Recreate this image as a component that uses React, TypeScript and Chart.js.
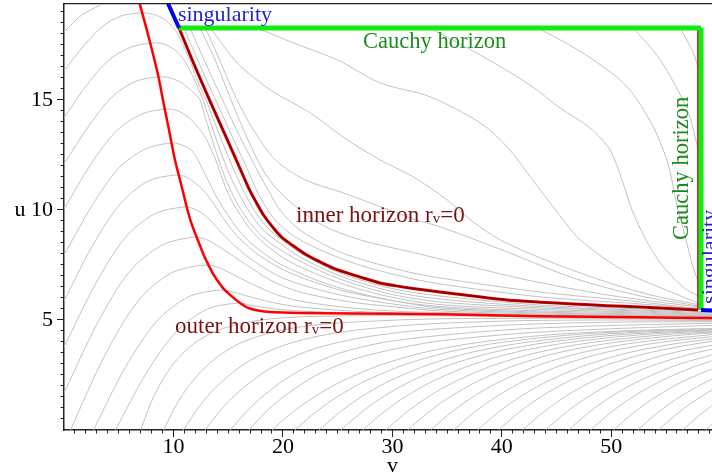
import { useEffect, useRef } from "react";
import { Chart, registerables } from "chart.js";

Chart.register(...registerables);

type P = [number, number];

// axis ranges and tick values
const vMin = 0;
const vMax = 59.2;
const uMin = 0;
const uMax = 19.36;
const vMajorTicks = [10, 20, 30, 40, 50];
const uMajorTicks = [5, 10, 15];
const vMinorTicks = Array.from({ length: 59 }, (_, i) => i + 1);
const uMinorTicks = Array.from({ length: 38 }, (_, i) => (i + 1) * 0.5);

// special curves (v, u)
const outerHorizon: P[] = [
  [6.85, 19.55], [6.94, 19.33], [7.49, 18.32], [8.04, 17.27], [8.59, 16.14], [9.04, 15.0],
  [9.59, 13.64], [10.14, 12.27], [10.83, 10.91], [11.28, 10.0], [11.69, 9.32], [12.33, 8.5],
  [12.84, 7.86], [13.57, 7.14], [13.98, 6.82], [14.53, 6.45], [15.17, 6.14], [16.08, 5.77],
  [16.81, 5.55], [17.72, 5.43], [18.82, 5.36], [21.56, 5.32], [26.13, 5.3], [34.35, 5.26],
  [43.49, 5.17], [52.62, 5.12], [59.3, 5.09],
];
const innerHorizon: P[] = [
  [10.51, 18.27], [11.83, 16.68], [13.29, 15.0], [14.8, 13.32], [16.26, 11.68], [16.95, 10.91],
  [17.59, 10.32], [18.23, 9.77], [19.05, 9.23], [19.87, 8.77], [20.83, 8.41], [22.02, 8.0],
  [23.39, 7.64], [24.58, 7.36], [25.85, 7.14], [27.32, 6.91], [28.87, 6.68], [30.33, 6.55],
  [31.88, 6.43], [34.35, 6.27], [37.36, 6.09], [40.47, 5.91], [43.49, 5.81], [46.5, 5.73],
  [49.61, 5.65], [52.62, 5.59], [55.36, 5.52], [57.92, 5.45],
];
const innerHorizonEdge: P[] = [[57.92, 18.2], [57.92, 5.45]];
const singularityLeft: P[] = [[9.27, 19.64], [10.51, 18.27]];
const singularityRight: P[] = [[58.2, 5.45], [59.4, 5.43]];
const cauchyTop: P[] = [[10.51, 18.27], [58.2, 18.27]];
const cauchyRight: P[] = [[58.2, 18.27], [58.2, 5.45]];

// grey r = const contours between the left edge and the inner horizon
const humpContours: P[][] = [
  [[0, 18.09], [1.6, 18.85], [3.33, 19.32], [5, 19.8]],
  [[0, 16.32], [1.87, 17.5], [3.56, 18.36], [5.25, 18.82], [6.94, 18.95], [8.04, 18.91], [8.95, 18.73], [9.68, 18.45], [10.32, 18.05], [10.87, 17.5], [11.33, 17.0], [11.79, 16.41], [12.33, 15.68], [12.97, 15.0], [13.61, 14.18], [14.25, 13.36], [14.75, 12.73], [15.21, 12.18], [15.76, 11.55], [16.35, 10.91], [16.99, 10.32], [17.72, 9.73], [18.64, 9.18], [19.82, 8.68], [21.56, 8.05], [25.21, 7.14], [29.78, 6.45], [34.35, 6.09], [43.49, 5.68], [52.62, 5.5], [59.2, 5.36]],
  [[0, 14.18], [2.15, 15.73], [4.16, 16.84], [6.16, 17.41], [8.13, 17.59], [9.04, 17.55], [9.87, 17.36], [10.6, 17.05], [11.24, 16.59], [11.79, 16.05], [12.24, 15.55], [12.7, 15.0], [13.25, 14.18], [13.8, 13.36], [14.25, 12.73], [14.66, 12.18], [15.17, 11.55], [15.8, 10.91], [16.44, 10.32], [17.18, 9.73], [18.09, 9.14], [19.46, 8.59], [21.56, 7.86], [25.21, 7.0], [29.78, 6.32], [34.35, 5.95], [43.49, 5.61], [52.62, 5.45], [59.2, 5.32]],
  [[0, 12.09], [2.33, 13.86], [4.47, 15.18], [6.62, 15.86], [8.77, 16.05], [9.68, 16.0], [10.6, 15.82], [11.33, 15.55], [11.97, 15.27], [12.42, 15.0], [12.93, 14.18], [13.43, 13.36], [13.84, 12.73], [14.21, 12.18], [14.66, 11.55], [15.21, 10.91], [15.8, 10.32], [16.54, 9.73], [17.45, 9.14], [18.82, 8.5], [21.56, 7.68], [25.21, 6.86], [29.78, 6.18], [34.35, 5.82], [43.49, 5.55], [52.62, 5.41], [59.2, 5.27]],
  [[0, 10.05], [2.47, 12.09], [4.79, 13.59], [7.12, 14.36], [9.41, 14.59], [10.41, 14.5], [11.33, 14.23], [12.15, 13.82], [12.88, 13.32], [13.43, 12.77], [13.89, 12.23], [14.34, 11.59], [14.85, 10.91], [15.44, 10.32], [16.17, 9.73], [16.99, 9.14], [18.36, 8.45], [20.65, 7.64], [25.21, 6.68], [29.78, 6.05], [34.35, 5.7], [43.49, 5.48], [52.62, 5.36], [59.2, 5.24]],
  [[0, 7.95], [2.6, 10.23], [5.02, 11.91], [7.44, 12.77], [9.87, 13.05], [10.78, 12.95], [11.6, 12.73], [12.24, 12.27], [12.74, 11.77], [13.2, 11.32], [13.66, 10.86], [14.25, 10.32], [15.03, 9.73], [15.94, 9.09], [17.27, 8.41], [19.73, 7.55], [24.3, 6.59], [29.78, 5.91], [34.35, 5.61], [43.49, 5.41], [52.62, 5.32], [59.2, 5.2]],
  [[0, 5.86], [2.69, 8.45], [5.21, 10.32], [7.72, 11.32], [10.23, 11.59], [11.15, 11.5], [11.97, 11.23], [12.7, 10.91], [13.43, 10.45], [14.16, 9.91], [14.98, 9.32], [16.08, 8.68], [17.91, 7.91], [20.65, 7.14], [25.21, 6.36], [30.7, 5.82], [34.35, 5.55], [43.49, 5.36], [52.62, 5.27], [59.2, 5.18]],
  [[0, 3.77], [2.88, 6.64], [5.57, 8.73], [8.26, 9.82], [10.96, 10.14], [11.88, 10.05], [12.7, 9.82], [13.52, 9.45], [14.43, 8.95], [15.62, 8.36], [17.45, 7.64], [20.19, 6.86], [25.21, 6.14], [30.7, 5.68], [34.35, 5.48], [43.49, 5.32], [52.62, 5.23], [59.2, 5.15]],
  [[0, 1.68], [3.06, 4.86], [6.03, 7.23], [9.0, 8.41], [11.88, 8.77], [12.88, 8.68], [13.8, 8.45], [14.89, 8.09], [16.54, 7.55], [18.82, 6.82], [21.56, 6.27], [26.13, 5.82], [30.7, 5.57], [34.35, 5.41], [43.49, 5.27], [52.62, 5.2], [59.2, 5.13]],
  [[0.59, 0], [3.7, 3.36], [6.76, 5.86], [9.82, 7.14], [12.88, 7.5], [13.98, 7.41], [15.17, 7.14], [16.99, 6.68], [19.28, 6.18], [21.56, 5.86], [26.13, 5.55], [30.7, 5.39], [34.35, 5.34], [43.49, 5.23], [52.62, 5.17], [59.2, 5.11]],
  [[2.69, 0], [5.62, 2.86], [8.49, 4.95], [11.37, 6.05], [14.25, 6.36], [15.44, 6.27], [16.99, 6.05], [19.28, 5.77], [21.56, 5.59], [26.13, 5.41], [30.7, 5.32], [34.35, 5.3], [43.49, 5.2], [52.62, 5.15], [59.2, 5.1]],
  [[4.7, 0], [7.53, 2.59], [10.32, 4.5], [13.11, 5.5], [15.9, 5.77], [16.99, 5.68], [19.28, 5.5], [21.56, 5.41], [26.13, 5.32], [30.7, 5.28], [34.35, 5.26], [43.49, 5.18], [52.62, 5.14], [59.2, 5.1]],
];

// grey contours below the outer horizon
const lowerContours: P[][] = [
  [[7, 0], [8, 1.3], [9, 2.27], [10, 3.01], [11.5, 3.78], [13, 4.28], [15, 4.69], [18, 5.0], [22, 5.15], [32, 5.2], [45, 5.13], [59.5, 5.05]],
  [[9.1, 0], [10.1, 1.0], [11.1, 1.8], [12.6, 2.7], [14.1, 3.35], [16.1, 3.95], [19.1, 4.45], [23.1, 4.78], [29.1, 4.97], [34.4, 5.05], [45, 5.08], [59.5, 5.02]],
  [[10.9, 0], [12.4, 1.1], [13.9, 1.95], [15.9, 2.8], [17.9, 3.4], [20.9, 3.98], [24.9, 4.42], [29.9, 4.7], [34.4, 4.85], [42, 4.97], [50, 5.0], [59.5, 4.97]],
  [[12.9, 0], [14.4, 0.95], [15.9, 1.7], [17.9, 2.5], [19.9, 3.08], [22.9, 3.7], [26.9, 4.17], [30.9, 4.45], [34.4, 4.6], [42, 4.8], [50, 4.9], [59.5, 4.92]],
  [[15.2, 0], [16.7, 0.85], [18.2, 1.55], [20.2, 2.3], [22.2, 2.88], [25.2, 3.5], [29.2, 3.98], [34.4, 4.3], [42, 4.6], [50, 4.75], [59.5, 4.85]],
  [[16.9, 0], [18.4, 0.8], [19.9, 1.45], [21.9, 2.15], [23.9, 2.7], [26.9, 3.28], [30.9, 3.75], [34.4, 4.05], [42, 4.4], [50, 4.6], [59.5, 4.76]],
  [[19, 0], [20.5, 0.65], [22, 1.22], [24, 1.85], [26, 2.36], [29, 2.97], [33, 3.54], [38, 3.99], [45, 4.35], [53, 4.54], [61, 4.63]],
  [[21.1, 0], [22.6, 0.65], [24.1, 1.22], [26.1, 1.85], [28.1, 2.36], [31.1, 2.97], [35.1, 3.54], [40.1, 3.99], [47.1, 4.35], [55.1, 4.54], [63.1, 4.63]],
  [[23.3, 0], [24.8, 0.65], [26.3, 1.22], [28.3, 1.85], [30.3, 2.36], [33.3, 2.97], [37.3, 3.54], [42.3, 3.99], [49.3, 4.35], [57.3, 4.54], [65.3, 4.63]],
  [[25.3, 0], [26.8, 0.65], [28.3, 1.22], [30.3, 1.85], [32.3, 2.36], [35.3, 2.97], [39.3, 3.54], [44.3, 3.99], [51.3, 4.35], [59.3, 4.54]],
  [[27.3, 0], [28.8, 0.65], [30.3, 1.22], [32.3, 1.85], [34.3, 2.36], [37.3, 2.97], [41.3, 3.54], [46.3, 3.99], [53.3, 4.35], [61.3, 4.54]],
  [[29.4, 0], [30.9, 0.65], [32.4, 1.22], [34.4, 1.85], [36.4, 2.36], [39.4, 2.97], [43.4, 3.54], [48.4, 3.99], [55.4, 4.35], [63.4, 4.54]],
  [[31.4, 0], [32.9, 0.65], [34.4, 1.22], [36.4, 1.85], [38.4, 2.36], [41.4, 2.97], [45.4, 3.54], [50.4, 3.99], [57.4, 4.35], [65.4, 4.54]],
  [[33.5, 0], [35, 0.65], [36.5, 1.22], [38.5, 1.85], [40.5, 2.36], [43.5, 2.97], [47.5, 3.54], [52.5, 3.99], [59.5, 4.35]],
  [[35.6, 0], [37.1, 0.65], [38.6, 1.22], [40.6, 1.85], [42.6, 2.36], [45.6, 2.97], [49.6, 3.54], [54.6, 3.99], [61.6, 4.35]],
  [[37.8, 0], [39.3, 0.65], [40.8, 1.22], [42.8, 1.85], [44.8, 2.36], [47.8, 2.97], [51.8, 3.54], [56.8, 3.99], [63.8, 4.35]],
  [[39.7, 0], [41.2, 0.65], [42.7, 1.22], [44.7, 1.85], [46.7, 2.36], [49.7, 2.97], [53.7, 3.54], [58.7, 3.99], [65.7, 4.35]],
  [[41.9, 0], [43.4, 0.65], [44.9, 1.22], [46.9, 1.85], [48.9, 2.36], [51.9, 2.97], [55.9, 3.54], [60.9, 3.99]],
  [[44, 0], [45.5, 0.65], [47, 1.22], [49, 1.85], [51, 2.36], [54, 2.97], [58, 3.54], [63, 3.99]],
  [[46.1, 0], [47.6, 0.65], [49.1, 1.22], [51.1, 1.85], [53.1, 2.36], [56.1, 2.97], [60.1, 3.54]],
  [[48.1, 0], [49.6, 0.65], [51.1, 1.22], [53.1, 1.85], [55.1, 2.36], [58.1, 2.97], [62.1, 3.54]],
  [[50.2, 0], [51.7, 0.65], [53.2, 1.22], [55.2, 1.85], [57.2, 2.36], [60.2, 2.97]],
  [[52.4, 0], [53.9, 0.65], [55.4, 1.22], [57.4, 1.85], [59.4, 2.36]],
  [[54.3, 0], [55.8, 0.65], [57.3, 1.22], [59.3, 1.85]],
  [[56.5, 0], [58, 0.65], [59.5, 1.22]],
  [[58.6, 0], [60.1, 0.65]],
];

// grey contours above the inner horizon
const upperContours: P[][] = [
  [[10.96, 18.27], [12.33, 16.68], [13.84, 15.0], [15.39, 13.32], [16.9, 11.68], [17.81, 10.68], [19.28, 9.55], [21.56, 8.64], [26.13, 7.64], [30.7, 7.0], [34.35, 6.64], [43.49, 6.05], [52.62, 5.73], [57.92, 5.49]],
  [[11.51, 18.27], [12.93, 16.68], [14.48, 15.0], [16.08, 13.32], [17.63, 11.82], [18.64, 10.91], [19.73, 10.0], [21.56, 9.09], [25.21, 8.09], [30.7, 7.27], [34.35, 6.91], [43.49, 6.27], [52.62, 5.82], [57.92, 5.52]],
  [[12.42, 18.27], [13.8, 16.82], [15.26, 15.0], [16.81, 13.18], [18.18, 11.82], [19.37, 11.0], [21.1, 10.18], [23.57, 9.32], [27.04, 8.64], [31.7, 8.09], [34.35, 7.77], [41.93, 6.86], [49.61, 6.14], [57.92, 5.59]],
  [[12.92, 18.27], [14.02, 17.05], [15.39, 15.45], [17.03, 13.86], [19.32, 12.27], [22.05, 11.36], [25.25, 10.82], [28.26, 10.27], [31.92, 9.59], [34.38, 9.23], [40.5, 8.09], [46.53, 6.91], [52.65, 6.09], [57.95, 5.64]],
  [[13.38, 18.27], [15.84, 16.68], [18.86, 15.45], [22.51, 14.41], [25.89, 13.18], [28.9, 12.27], [31.92, 11.5], [35.02, 10.45], [37.4, 9.45], [39.86, 8.64], [43.52, 7.82], [49.0, 6.82], [53.56, 6.14], [57.95, 5.7]],
  [[17.67, 18.27], [20.96, 17.59], [24.98, 16.82], [28.9, 15.77], [33.47, 15.14], [38.04, 13.95], [40.5, 12.86], [42.6, 11.5], [44.7, 10.14], [47.17, 8.64], [51.46, 7.14], [55.66, 6.23], [57.95, 5.77]],
  [[33.44, 18.27], [38.0, 17.05], [42.57, 15.68], [45.31, 14.64], [48.05, 13.73], [49.88, 12.73], [50.98, 11.36], [51.89, 10.0], [53.07, 8.73], [54.62, 7.5], [56.55, 6.5], [57.92, 6.09]],
  [[43.24, 18.27], [45.34, 17.73], [48.36, 16.82], [51.46, 15.59], [53.84, 13.77], [55.21, 12.05], [55.94, 10.32], [56.76, 8.77], [57.49, 7.36], [57.95, 6.73]],
  [[52.01, 18.27], [54.47, 16.82], [56.94, 14.55], [57.95, 12.73]],
  [[56.3, 18.27], [57.49, 17.14], [57.95, 16.45]],
];

const SERIF = '"Liberation Serif", "Times New Roman", serif';
const DARKRED = "#7a1212";
const GREEN_TEXT = "#1f8a1f";
const BLUE_TEXT = "#2323c8";

type Part = { text: string; size: number; dy?: number };

const textPlugin = {
  id: "diagramText",
  afterDatasetsDraw(chart: any) {
    const ctx: CanvasRenderingContext2D = chart.ctx;
    const sx = chart.scales.x;
    const sy = chart.scales.y;
    const draw = (parts: Part[], v: number, u: number, color: string, angle = 0) => {
      ctx.save();
      ctx.translate(sx.getPixelForValue(v), sy.getPixelForValue(u));
      ctx.rotate(angle);
      ctx.fillStyle = color;
      ctx.textAlign = "left";
      ctx.textBaseline = "alphabetic";
      let cx = 0;
      for (const p of parts) {
        ctx.font = `${p.size}px ${SERIF}`;
        ctx.fillText(p.text, cx, p.dy || 0);
        cx += ctx.measureText(p.text).width;
      }
      ctx.restore();
    };
    draw([{ text: "singularity", size: 22 }], 10.41, 18.59, BLUE_TEXT);
    draw([{ text: "Cauchy horizon", size: 22.5 }], 27.32, 17.36, GREEN_TEXT);
    draw(
      [{ text: "inner horizon r", size: 23 }, { text: "v", size: 15, dy: 1 }, { text: "=0", size: 23 }],
      21.2, 9.45, DARKRED
    );
    draw(
      [{ text: "outer horizon r", size: 23 }, { text: "v", size: 15, dy: 1 }, { text: "=0", size: 23 }],
      10.14, 4.41, DARKRED
    );
    draw([{ text: "Cauchy horizon", size: 22.5 }], 57.0, 8.64, GREEN_TEXT, -Math.PI / 2);
    draw([{ text: "singularity", size: 22 }], 59.57, 5.73, BLUE_TEXT, -Math.PI / 2);
  },
};

const xy = (pts: P[]) => pts.map(([x, y]) => ({ x, y }));

export default function App() {
  const ref = useRef<HTMLCanvasElement | null>(null);

  useEffect(() => {
    if (!ref.current) return;
    const smooth = (pts: P[], color: string, width: number, order: number, tension = 0.38) => ({
      data: xy(pts),
      borderColor: color,
      borderWidth: width,
      pointRadius: 0,
      tension,
      fill: false,
      order,
    });
    const straight = (pts: P[], color: string, width: number, order: number) => ({
      data: xy(pts),
      borderColor: color,
      borderWidth: width,
      pointRadius: 0,
      tension: 0,
      fill: false,
      order,
    });
    const gray = (pts: P[]) => smooth(pts, "#c2c2c2", 1, 10, 0.3);

    const datasets: any[] = [
      ...humpContours.map(gray),
      ...lowerContours.map(gray),
      ...upperContours.map(gray),
      smooth(outerHorizon, "#ff0000", 2.5, 5, 0.3),
      smooth(innerHorizon, "#d40000", 3, 5, 0.3),
      smooth(innerHorizon, "#8a0000", 1.3, 4, 0.3),
      straight(innerHorizonEdge, "#b00000", 1.6, 4),
      straight(cauchyTop, "#10ee10", 5, 3),
      straight(cauchyRight, "#10ee10", 5, 3),
      straight(singularityLeft, "#0000ee", 4, 2),
      straight(singularityRight, "#0000ee", 4, 2),
    ];

    const axisFont = { family: SERIF, size: 22 };
    const zeroPad = (s: any) => {
      s.paddingTop = 0;
      s.paddingBottom = 0;
      s.paddingLeft = 0;
      s.paddingRight = 0;
    };

    const chart = new Chart(ref.current, {
      type: "line",
      data: { datasets },
      plugins: [textPlugin],
      options: {
        animation: false,
        responsive: false,
        maintainAspectRatio: false,
        layout: { padding: { top: 4, left: 0, right: 0, bottom: 0 }, autoPadding: false },
        plugins: { legend: { display: false }, tooltip: { enabled: false } },
        events: [],
        scales: {
          x: {
            type: "linear",
            position: "bottom",
            weight: 1,
            bounds: "data",
            min: vMin,
            max: vMax,
            afterBuildTicks: (s: any) => {
              s.ticks = vMajorTicks.map((value) => ({ value }));
            },
            afterFit: (s: any) => {
              s.height = 46;
              zeroPad(s);
            },
            ticks: {
              autoSkip: false,
              maxRotation: 0,
              padding: 1,
              color: "#000",
              font: { ...axisFont, lineHeight: 0.85 },
              callback: (val: any) => (val === 30 ? ["30", "v"] : String(val)),
            },
            grid: { drawOnChartArea: false, drawTicks: true, tickLength: 7, color: "#222", lineWidth: 1 },
            border: { display: true, color: "#222", width: 1.5 },
          },
          xMinor: {
            type: "linear",
            position: "bottom",
            weight: 0,
            bounds: "data",
            min: vMin,
            max: vMax,
            afterBuildTicks: (s: any) => {
              s.ticks = vMinorTicks.map((value) => ({ value }));
            },
            afterFit: (s: any) => {
              s.height = 0;
              zeroPad(s);
            },
            ticks: { display: false },
            grid: { drawOnChartArea: false, drawTicks: true, tickLength: 3.5, color: "#222", lineWidth: 1 },
            border: { display: false },
          },
          xTop: {
            type: "linear",
            position: "top",
            bounds: "data",
            min: vMin,
            max: vMax,
            afterBuildTicks: (s: any) => {
              s.ticks = [];
            },
            afterFit: (s: any) => {
              s.height = 0;
              zeroPad(s);
            },
            ticks: { display: false },
            grid: { drawOnChartArea: false, drawTicks: false },
            border: { display: true, color: "#222", width: 1.2 },
          },
          y: {
            type: "linear",
            position: "left",
            weight: 1,
            bounds: "data",
            min: uMin,
            max: uMax,
            afterBuildTicks: (s: any) => {
              s.ticks = uMajorTicks.map((value) => ({ value }));
            },
            afterFit: (s: any) => {
              s.width = 64;
              zeroPad(s);
            },
            ticks: {
              autoSkip: false,
              padding: 4,
              color: "#000",
              font: axisFont,
              callback: (val: any) => (val === 10 ? "u 10" : String(val)),
            },
            grid: { drawOnChartArea: false, drawTicks: true, tickLength: 7, color: "#222", lineWidth: 1 },
            border: { display: true, color: "#222", width: 1.5 },
          },
          yMinor: {
            type: "linear",
            position: "left",
            weight: 0,
            bounds: "data",
            min: uMin,
            max: uMax,
            afterBuildTicks: (s: any) => {
              s.ticks = uMinorTicks.map((value) => ({ value }));
            },
            afterFit: (s: any) => {
              s.width = 0;
              zeroPad(s);
            },
            ticks: { display: false },
            grid: { drawOnChartArea: false, drawTicks: true, tickLength: 3.5, color: "#222", lineWidth: 1 },
            border: { display: false },
          },
        },
      } as any,
    });
    return () => chart.destroy();
  }, []);

  return (
    <div style={{ position: "fixed", left: 0, top: 0, width: 712, height: 476, background: "#fff" }}>
      <canvas ref={ref} width={712} height={476} style={{ width: 712, height: 476, display: "block" }} />
    </div>
  );
}
